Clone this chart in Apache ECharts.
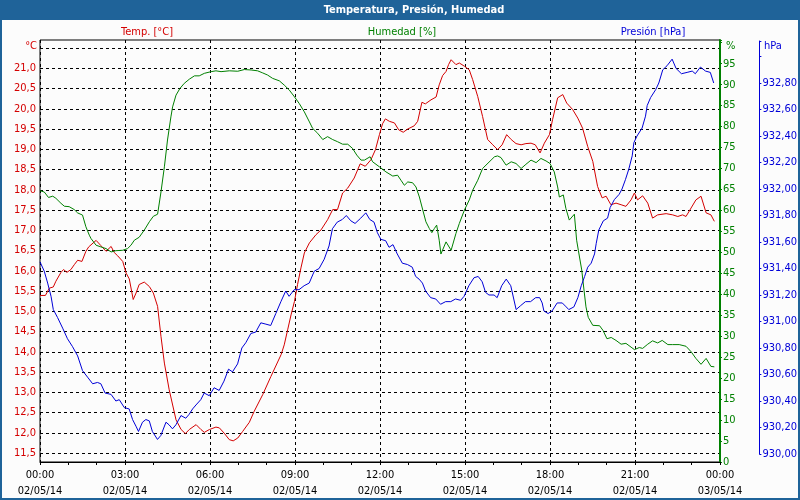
<!DOCTYPE html>
<html>
<head>
<meta charset="utf-8">
<script src="https://cdn.jsdelivr.net/npm/echarts@6/dist/echarts.min.js"></script>
<style>
html,body{margin:0;padding:0;background:#fcfcfc;}
#c{width:800px;height:500px;}
</style>
</head>
<body>
<div id="c"></div>
<script>
// ---- data ----
const chartTitle = 'Temperatura, Presión, Humedad';
const seriesNames = ['Temp. [°C]', 'Humedad [%]', 'Presión [hPa]'];
const xTickTimes = ['00:00','03:00','06:00','09:00','12:00','15:00','18:00','21:00','00:00'];
const xTickDates = ['02/05/14','02/05/14','02/05/14','02/05/14','02/05/14','02/05/14','02/05/14','02/05/14','03/05/14'];

const tempHours = [0,0.19,0.33,0.47,0.56,0.74,0.83,0.95,1.09,1.21,1.33,1.48,1.62,1.72,1.98,2.15,2.33,2.51,2.62,2.74,2.92,3.04,3.15,3.29,3.39,3.5,3.68,3.86,4.0,4.15,4.27,4.39,4.56,4.8,4.98,5.13,5.27,5.51,5.68,5.8,5.98,6.21,6.33,6.5,6.68,6.82,6.98,7.15,7.39,7.56,7.86,8.15,8.51,8.62,8.74,8.86,8.98,9.09,9.21,9.33,9.51,9.74,9.92,10.15,10.33,10.5,10.68,10.86,11.09,11.3,11.48,11.68,11.84,11.98,12.09,12.19,12.33,12.51,12.66,12.82,12.98,13.21,13.33,13.48,13.6,13.8,13.98,14.09,14.21,14.33,14.42,14.51,14.68,14.8,14.98,15.15,15.27,15.45,15.62,15.8,15.98,16.15,16.31,16.47,16.63,16.8,16.98,17.15,17.33,17.48,17.65,17.8,17.98,18.09,18.27,18.45,18.59,18.8,18.98,19.15,19.33,19.51,19.68,19.84,19.98,20.15,20.33,20.51,20.68,20.86,20.98,21.09,21.27,21.45,21.62,21.8,22.1,22.33,22.51,22.68,22.8,22.98,23.15,23.33,23.51,23.68,23.8];
const tempValues = [15.39,15.39,15.57,15.6,15.74,15.96,16.03,15.96,16.03,16.15,16.26,16.23,16.48,16.59,16.75,16.62,16.48,16.6,16.45,16.37,16.23,15.94,15.8,15.29,15.45,15.66,15.72,15.61,15.45,15.12,14.38,13.72,13.06,12.32,12.08,11.98,12.08,12.2,12.08,12.01,12.08,12.14,12.12,11.99,11.83,11.8,11.87,12.03,12.26,12.53,12.94,13.39,13.93,14.17,14.54,14.91,15.24,15.66,16.07,16.44,16.69,16.89,17.01,17.26,17.51,17.51,17.92,18.04,18.29,18.64,18.58,18.74,18.99,19.36,19.63,19.75,19.69,19.65,19.48,19.42,19.5,19.58,19.69,20.16,20.12,20.22,20.29,20.59,20.82,20.92,21.09,21.21,21.09,21.13,21.05,20.96,20.72,20.3,19.81,19.24,19.11,18.99,19.11,19.36,19.24,19.14,19.11,19.14,19.15,19.11,18.91,19.15,19.36,19.73,20.27,20.35,20.14,19.98,19.77,19.52,19.07,18.7,18.08,17.8,17.84,17.63,17.67,17.63,17.59,17.75,17.92,17.75,17.85,17.67,17.3,17.38,17.41,17.38,17.34,17.38,17.34,17.55,17.75,17.84,17.43,17.38,17.22];

const humHours = [0,0.15,0.3,0.45,0.56,0.74,0.86,1.03,1.21,1.33,1.5,1.62,1.74,1.8,1.98,2.15,2.33,2.51,2.68,2.92,3.09,3.21,3.33,3.5,3.68,3.86,4.0,4.15,4.27,4.39,4.5,4.62,4.68,4.8,4.94,5.09,5.27,5.45,5.62,5.8,6.04,6.21,6.39,6.68,6.98,7.21,7.45,7.68,7.86,8.03,8.21,8.45,8.62,8.8,8.98,9.15,9.33,9.51,9.62,9.8,9.98,10.15,10.33,10.5,10.68,10.86,11.03,11.18,11.33,11.45,11.65,11.74,11.98,12.21,12.45,12.62,12.74,12.86,12.98,13.15,13.27,13.39,13.51,13.62,13.74,13.83,13.92,14.0,14.09,14.15,14.33,14.51,14.68,14.8,14.98,15.15,15.27,15.45,15.62,15.74,15.92,16.04,16.15,16.27,16.45,16.63,16.8,16.98,17.15,17.33,17.51,17.68,17.86,18.0,18.15,18.27,18.33,18.47,18.56,18.68,18.86,18.94,19.0,19.12,19.2,19.27,19.35,19.51,19.75,19.87,20.01,20.16,20.33,20.51,20.68,20.86,20.98,21.15,21.27,21.45,21.62,21.8,21.96,22.16,22.33,22.56,22.8,22.98,23.15,23.33,23.51,23.68,23.8];
const humValues = [64.7,64.4,63.1,63.4,62.9,61.7,61.0,60.9,60.2,59.4,58.9,56.1,54.1,53.3,51.7,51.3,50.9,50.1,50.4,50.5,50.9,51.7,52.9,53.6,55.3,57.3,58.6,59.1,64.4,70.4,76.8,82.3,84.7,87.5,89.1,90.3,91.3,92.1,92.1,92.7,93.1,93.3,93.1,93.3,93.2,93.6,93.5,93.3,92.8,92.3,91.5,90.9,89.9,88.7,87.1,85.5,83.5,81.1,79.6,78.4,76.9,77.6,76.9,76.4,75.8,75.8,74.8,73.2,72.0,72.0,72.8,71.6,70.4,69.2,68.2,68.4,67.2,66.0,66.8,66.6,65.6,63.2,60.1,57.3,55.7,54.7,55.7,56.5,52.9,49.6,52.5,50.5,54.5,56.9,60.1,62.5,64.8,67.2,70.0,70.8,72.0,72.8,73.0,72.6,70.8,71.6,71.2,70.0,71.0,72.0,71.4,72.4,71.8,71.2,69.2,65.6,63.2,63.7,60.5,57.7,59.1,52.9,50.5,45.8,41.0,37.0,34.5,32.6,32.5,31.4,29.4,29.7,29.0,28.1,28.3,27.4,26.8,27.3,27.1,28.1,28.9,28.4,29.0,28.0,28.0,28.0,27.6,26.3,24.7,23.3,24.7,22.8,22.7];

const presHours = [0,0.15,0.27,0.39,0.47,0.62,0.8,0.97,1.15,1.33,1.5,1.68,1.86,2.03,2.15,2.3,2.51,2.68,2.8,2.98,3.15,3.27,3.39,3.48,3.62,3.74,3.86,3.97,4.15,4.27,4.45,4.56,4.68,4.8,4.98,5.15,5.27,5.39,5.51,5.68,5.8,5.98,6.15,6.33,6.5,6.66,6.8,6.98,7.13,7.27,7.45,7.62,7.8,7.98,8.15,8.33,8.51,8.68,8.8,8.98,9.15,9.33,9.51,9.69,9.86,10.04,10.21,10.33,10.5,10.68,10.82,10.98,11.13,11.33,11.51,11.65,11.8,11.92,12.04,12.21,12.33,12.47,12.62,12.8,12.98,13.15,13.27,13.39,13.51,13.62,13.8,13.98,14.15,14.33,14.51,14.68,14.86,14.98,15.15,15.33,15.48,15.62,15.74,15.86,16.04,16.15,16.31,16.47,16.63,16.82,16.98,17.15,17.33,17.51,17.65,17.74,17.8,17.95,18.09,18.27,18.45,18.59,18.68,18.86,19.0,19.12,19.24,19.35,19.47,19.59,19.65,19.74,19.9,20.05,20.14,20.29,20.46,20.56,20.68,20.8,20.92,20.98,21.09,21.27,21.39,21.45,21.57,21.75,21.86,22.0,22.15,22.33,22.47,22.66,22.86,23.04,23.15,23.33,23.51,23.68,23.8];
const presValues = [931.45,931.38,931.29,931.19,931.09,931.03,930.95,930.87,930.81,930.74,930.63,930.58,930.53,930.54,930.53,930.46,930.45,930.40,930.41,930.35,930.34,930.26,930.21,930.17,930.24,930.26,930.25,930.17,930.11,930.14,930.24,930.22,930.19,930.22,930.29,930.27,930.30,930.34,930.37,930.41,930.46,930.44,930.50,930.48,930.55,930.64,930.62,930.68,930.80,930.84,930.91,930.92,930.99,930.98,930.97,931.06,931.15,931.23,931.19,931.24,931.24,931.27,931.29,931.38,931.40,931.47,931.57,931.70,931.75,931.77,931.80,931.76,931.74,931.78,931.82,931.77,931.75,931.67,931.62,931.61,931.56,931.58,931.51,931.44,931.43,931.41,931.34,931.32,931.29,931.23,931.18,931.17,931.13,931.15,931.15,931.17,931.16,931.19,931.27,931.33,931.34,931.30,931.22,931.20,931.20,931.18,931.27,931.32,931.27,931.09,931.12,931.15,931.15,931.18,931.18,931.14,931.08,931.06,931.08,931.14,931.14,931.11,931.09,931.11,931.18,931.27,931.34,931.41,931.44,931.51,931.59,931.69,931.76,931.78,931.86,931.92,931.96,932.00,932.07,932.15,932.25,932.35,932.40,932.46,932.55,932.63,932.69,932.75,932.80,932.90,932.93,932.98,932.91,932.87,932.88,932.89,932.87,932.92,932.89,932.88,932.80];

// ---- style ----
const RED = '#d40000', GREEN = '#008000', BLUE = '#0000d8', FRAME = '#1f6399';
const FONT = '"DejaVu Sans Condensed", "DejaVu Sans", sans-serif';
const dashed = { color: '#000', width: 1, type: [3, 3] };

const pairs = (hs, vs) => hs.map((h, i) => [h, vs[i]]);
const comma = (v, d) => v.toFixed(d).replace('.', ',');

const chart = echarts.init(document.getElementById('c'), null, { renderer: 'canvas' });
chart.setOption({
  animation: false,
  backgroundColor: '#fcfcfc',
  textStyle: { fontFamily: FONT },
  grid: [
    { left: 40, top: 40, width: 680, height: 422, show: true, borderColor: '#000', borderWidth: 1, backgroundColor: 'transparent' },
    { left: 40, top: 48, width: 680, height: 405 },
    { left: 40, top: 41, width: 680, height: 413 }
  ],
  xAxis: [
    {
      gridIndex: 0, type: 'value', min: 0, max: 24, interval: 3,
      axisLine: { show: true, onZero: false, lineStyle: { color: '#000', width: 1 } },
      axisTick: { show: true, length: 3, lineStyle: { color: '#000' } },
      minorTick: { show: true, splitNumber: 3, length: 3, lineStyle: { color: '#000' } },
      splitLine: { show: true, lineStyle: dashed },
      axisLabel: {
        color: '#000', fontFamily: FONT, fontSize: 11, lineHeight: 16, margin: 5,
        formatter: v => { const i = Math.round(v / 3); return xTickTimes[i] + '\n' + xTickDates[i]; }
      }
    },
    { gridIndex: 1, type: 'value', min: 0, max: 24, show: false, axisLine: { onZero: false } },
    { gridIndex: 2, type: 'value', min: 0, max: 24, show: false, axisLine: { onZero: false } }
  ],
  yAxis: [
    {
      gridIndex: 1, type: 'value', position: 'left', min: 11.5, max: 21.5, interval: 0.5,
      axisLine: { show: false, onZero: false }, axisTick: { show: false },
      splitLine: { show: true, lineStyle: dashed },
      axisLabel: { color: RED, fontFamily: FONT, fontSize: 11, margin: 4,
        formatter: v => (v > 21.25 ? '' : comma(v, 1)) }
    },
    {
      gridIndex: 0, type: 'value', position: 'right', min: 0, max: 100.65, interval: 5,
      axisLine: { show: true, onZero: false, lineStyle: { color: GREEN, width: 2 } },
      axisTick: { show: true, length: 2, lineStyle: { color: GREEN } },
      splitLine: { show: false },
      axisLabel: { color: GREEN, fontFamily: FONT, fontSize: 11, margin: 3,
        formatter: v => (v > 95.5 ? '' : String(Math.round(v))) }
    },
    {
      gridIndex: 2, type: 'value', position: 'right', offset: 40, min: 930, max: 933.117, interval: 0.2,
      axisLine: { show: true, onZero: false, lineStyle: { color: BLUE, width: 1 } },
      axisTick: { show: true, length: 2, lineStyle: { color: BLUE } },
      splitLine: { show: false },
      axisLabel: { color: BLUE, fontFamily: FONT, fontSize: 11, margin: 3,
        formatter: v => (v > 932.85 ? '' : comma(v, 2)) }
    }
  ],
  series: [
    { name: seriesNames[0], type: 'line', xAxisIndex: 1, yAxisIndex: 0, data: pairs(tempHours, tempValues),
      showSymbol: false, symbol: 'none', clip: false, lineStyle: { color: RED, width: 1 } },
    { name: seriesNames[1], type: 'line', xAxisIndex: 0, yAxisIndex: 1, data: pairs(humHours, humValues),
      showSymbol: false, symbol: 'none', clip: false, lineStyle: { color: GREEN, width: 1 } },
    { name: seriesNames[2], type: 'line', xAxisIndex: 2, yAxisIndex: 2, data: pairs(presHours, presValues),
      showSymbol: false, symbol: 'none', clip: false, lineStyle: { color: BLUE, width: 1 } }
  ],
  graphic: [
    { type: 'rect', shape: { x: 0, y: 0, width: 800, height: 20 }, style: { fill: FRAME }, silent: true },
    { type: 'rect', shape: { x: 1, y: 1, width: 798, height: 498 }, style: { fill: 'none', stroke: FRAME, lineWidth: 2 }, silent: true },
    { type: 'text', x: 414, y: 10, style: { text: chartTitle, fill: '#fff', font: 'bold 11px ' + FONT, textAlign: 'center', textVerticalAlign: 'middle' } },
    { type: 'text', x: 147, y: 32, style: { text: seriesNames[0], fill: RED, font: '11px ' + FONT, textAlign: 'center', textVerticalAlign: 'middle' } },
    { type: 'text', x: 402, y: 32, style: { text: seriesNames[1], fill: GREEN, font: '11px ' + FONT, textAlign: 'center', textVerticalAlign: 'middle' } },
    { type: 'text', x: 653, y: 32, style: { text: seriesNames[2], fill: BLUE, font: '11px ' + FONT, textAlign: 'center', textVerticalAlign: 'middle' } },
    { type: 'text', x: 37, y: 46, style: { text: '°C', fill: RED, font: '11px ' + FONT, textAlign: 'right', textVerticalAlign: 'middle' } },
    { type: 'text', x: 726, y: 46, style: { text: '%', fill: GREEN, font: '11px ' + FONT, textAlign: 'left', textVerticalAlign: 'middle' } },
    { type: 'text', x: 764, y: 46, style: { text: 'hPa', fill: BLUE, font: '11px ' + FONT, textAlign: 'left', textVerticalAlign: 'middle' } }
  ]
});
</script>
</body>
</html>
